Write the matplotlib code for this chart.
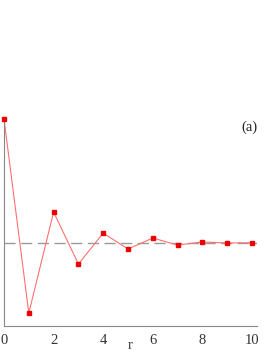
import numpy as np
import matplotlib
matplotlib.use("Agg")
import matplotlib.pyplot as plt

r = [0, 1, 2, 3, 4, 5, 6, 7, 8, 9, 10]
values = [1.0, -0.568, 0.248, -0.172, 0.078, -0.051, 0.038, -0.019, 0.006, -0.002, 0.0]
baseline = 0.0
xticks = [0, 2, 4, 6, 8, 10]
panel_label = "(a)"

plt.rcParams["font.family"] = ["Liberation Serif", "DejaVu Serif"]

fig = plt.figure(figsize=(2.73, 3.53), dpi=100)
ax = fig.add_axes([4 / 273, 27 / 353, 253 / 273, 207 / 353])

ax.axhline(baseline, color="#999999", lw=1.0, ls=(0, (8, 4)), zorder=1)
ax.plot(r, values, color="#ff7070", lw=0.8, zorder=2, clip_on=False)
ax.plot(r, values, ls="none", marker="s", ms=3.2, color="#ee0000",
        mec="#ee0000", zorder=3, clip_on=False)

ax.set_xlim(0, 10.2)
ax.set_ylim(-0.673, 1.0)
ax.set_xticks(xticks)
ax.set_yticks([])
ax.tick_params(axis="x", length=0, pad=6, labelsize=10.5, colors="#333333")
for side in ["top", "right"]:
    ax.spines[side].set_visible(False)
for side in ["left", "bottom"]:
    ax.spines[side].set_color("#888888")
    ax.spines[side].set_linewidth(0.8)

ax.set_xlabel("r", fontsize=10.5, color="#333333")
ax.xaxis.set_label_coords(0.498, -0.062)
ax.text(0.97, 0.96, panel_label, transform=ax.transAxes, fontsize=10.5,
        ha="center", va="center", color="#222222")

fig.savefig("out.png", dpi=100)
